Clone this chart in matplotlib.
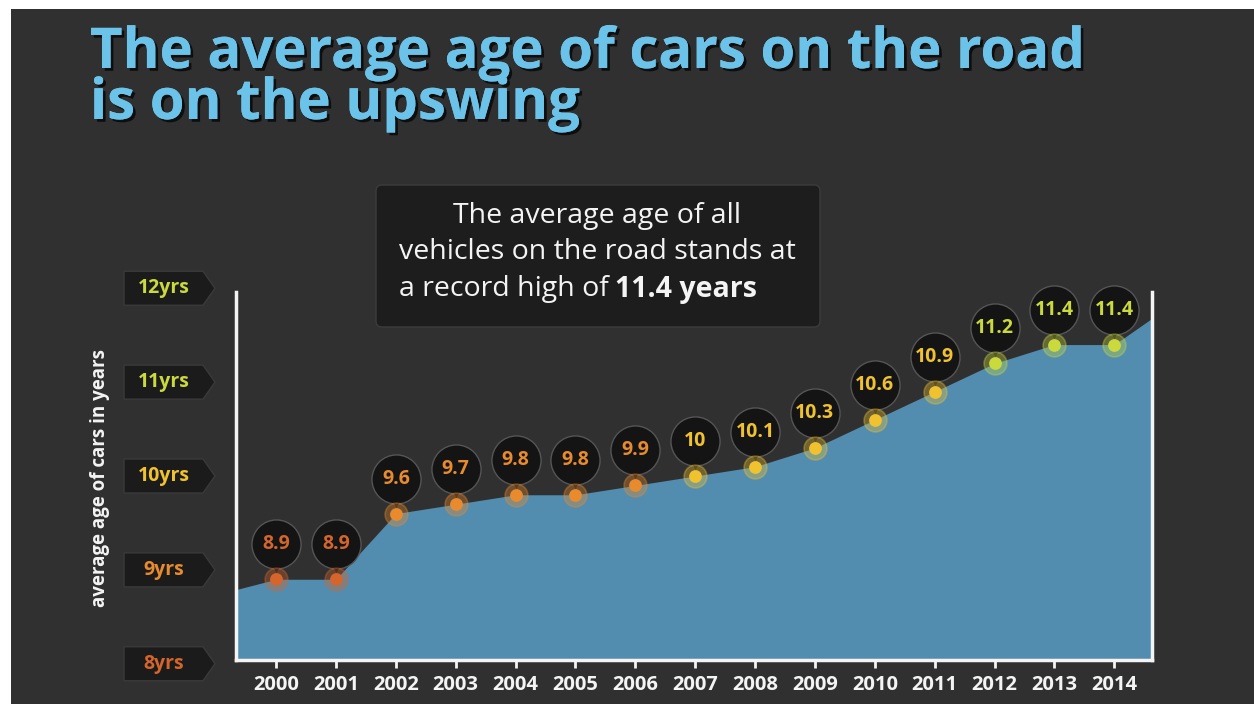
import matplotlib
matplotlib.use('Agg')
import matplotlib.pyplot as plt
import matplotlib.patheffects as pe
from matplotlib.patches import Polygon, FancyBboxPatch, Rectangle
from matplotlib.transforms import offset_copy, IdentityTransform

# data
years = [2000, 2001, 2002, 2003, 2004, 2005, 2006, 2007,
         2008, 2009, 2010, 2011, 2012, 2013, 2014]
ages = [8.9, 8.9, 9.6, 9.7, 9.8, 9.8, 9.9, 10.0,
        10.1, 10.3, 10.6, 10.9, 11.2, 11.4, 11.4]
age_labels = ['8.9', '8.9', '9.6', '9.7', '9.8', '9.8', '9.9', '10',
              '10.1', '10.3', '10.6', '10.9', '11.2', '11.4', '11.4']
# where the shaded area meets the left / right frame
area_left = 8.79
area_right = 11.68
ytick_vals = [8, 9, 10, 11, 12]
ytick_labels = ['8yrs', '9yrs', '10yrs', '11yrs', '12yrs']

W, H = 1254, 704
BG = '#303030'
AREA = '#528db0'
WHITE = '#f4f4f4'
FONT = 'Open Sans'


def level_color(v):
    if v < 9:
        return '#d4652c'
    if v < 10:
        return '#e88b2e'
    if v < 11:
        return '#f0c22f'
    return '#cad93c'


def px(x, y):
    # reference pixel (top-left origin) -> figure fraction
    return x / W, 1 - y / H


fig = plt.figure(figsize=(W / 100, H / 100), dpi=100)
fig.patch.set_facecolor('white')
fig.patches.append(Rectangle(px(11, H), 1, 1 - 9 / H, transform=fig.transFigure,
                             facecolor=BG, edgecolor='none', zorder=-5))

l, b = px(236, 660)
r, t = px(1152, 292)
ax = fig.add_axes([l, b, r - l, t - b])
ax.set_facecolor('none')
ax.set_zorder(2)
xmin, xmax = 1999.33, 2014.63
ax.set_xlim(xmin, xmax)
ax.set_ylim(8.04, 11.96)

# shaded area
ax.fill_between([xmin] + years + [xmax], [area_left] + ages + [area_right], 8.04,
                color=AREA, lw=0, zorder=1)

for s in ['left', 'right', 'bottom']:
    ax.spines[s].set_color(WHITE)
    ax.spines[s].set_linewidth(2.5)
ax.spines['top'].set_visible(False)
ax.set_yticks([])
ax.set_xticks(years)
ax.set_xticklabels([str(y) for y in years], fontfamily=FONT, fontweight='bold',
                   fontsize=14.5)
ax.tick_params(axis='x', colors=WHITE, length=6, width=2, pad=5)

# bubbles + markers
bub = offset_copy(ax.transData, fig=fig, x=0, y=35, units='dots')
tail = offset_copy(ax.transData, fig=fig, x=0, y=12, units='dots')
for x, v, lab in zip(years, ages, age_labels):
    c = level_color(v)
    ax.scatter([x], [v], s=1250, color='#141414', edgecolors='#555555',
               linewidths=1.0, transform=bub, zorder=3, clip_on=False)
    ax.scatter([x], [v], s=70, marker='v', color='#141414', lw=0,
               transform=tail, zorder=3, clip_on=False)
    ax.text(x, v, lab, transform=bub, ha='center', va='center', color=c,
            fontfamily=FONT, fontweight='bold', fontsize=14, zorder=4)
    ax.scatter([x], [v], s=270, color=c, alpha=0.35, edgecolors=c,
               linewidths=1.2, zorder=4, clip_on=False)
    ax.scatter([x], [v], s=85, color=c, lw=0, zorder=5, clip_on=False)

# y tick boxes with arrow tips
for v, lab in zip(ytick_vals, ytick_labels):
    yc = ax.transData.transform((2000, v))[1]
    x0, x1, x2 = 124, 203, 215
    h = 17
    pts = [(x0, yc - h), (x1, yc - h), (x2, yc), (x1, yc + h), (x0, yc + h)]
    fig.patches.append(Polygon(pts, closed=True, transform=IdentityTransform(),
                               facecolor='#1b1b1b', edgecolor='#3a3a3a', lw=1))
    fig.text(164 / W, yc / H, lab, ha='center', va='center', color=level_color(v),
             fontfamily=FONT, fontweight='bold', fontsize=14)

fig.text(*px(100, 478), 'average age of cars in years', rotation=90,
         ha='center', va='center', color=WHITE, fontfamily=FONT,
         fontweight='bold', fontsize=13.5)

# title
shadow = [pe.withSimplePatchShadow(offset=(2, -2), shadow_rgbFace='black', alpha=0.7),
          pe.Normal()]
fig.text(*px(90, 68), 'The average age of cars on the road', ha='left',
         va='baseline', color='#6cc3ea', fontfamily=FONT, fontweight='bold',
         fontsize=40.5, path_effects=shadow)
fig.text(*px(90, 119), 'is on the upswing', ha='left', va='baseline',
         color='#6cc3ea', fontfamily=FONT, fontweight='bold', fontsize=40.5,
         path_effects=shadow)

# callout
fig.patches.append(FancyBboxPatch((376, H - 327), 444, 142,
                                  boxstyle='round,pad=0,rounding_size=6',
                                  transform=IdentityTransform(),
                                  facecolor='#1d1d1d', edgecolor='#3c3c3c', lw=1))
fig.text(*px(597, 216), 'The average age of all', ha='center', va='center',
         color=WHITE, fontfamily=FONT, fontsize=20.5)
fig.text(*px(597, 252), 'vehicles on the road stands at', ha='center',
         va='center', color=WHITE, fontfamily=FONT, fontsize=20.5)
fig.text(*px(609, 289), 'a record high of', ha='right', va='center',
         color=WHITE, fontfamily=FONT, fontsize=20.5)
fig.text(*px(615, 289), '11.4 years', ha='left', va='center',
         color=WHITE, fontfamily=FONT, fontweight='bold', fontsize=20.5)

fig.savefig('out.png', dpi=100, facecolor=fig.get_facecolor())
